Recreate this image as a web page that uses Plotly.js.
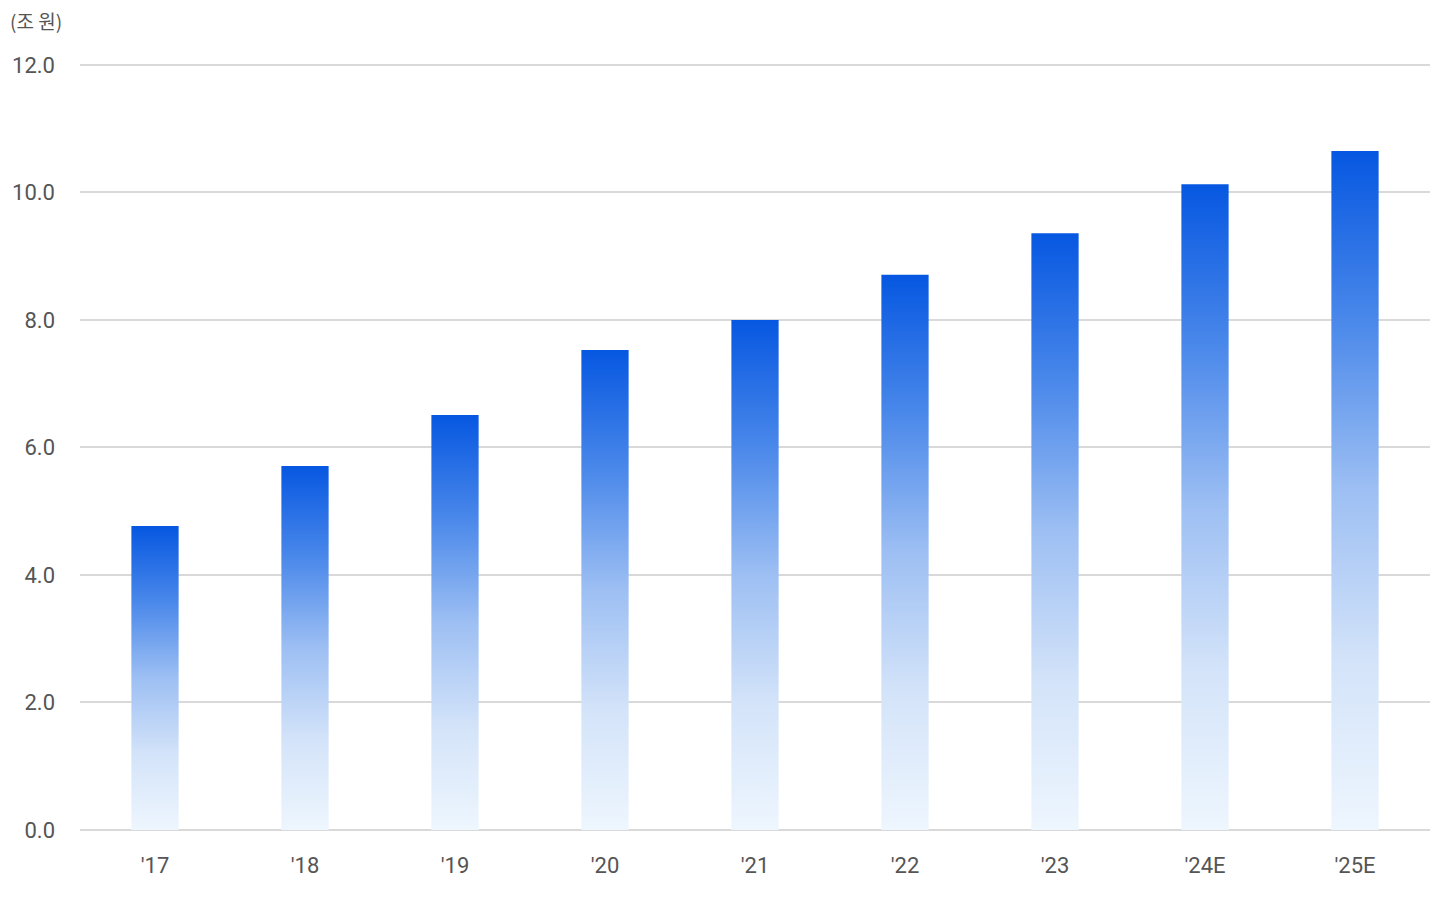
<!DOCTYPE html>
<html>
<head>
<meta charset="utf-8">
<script src="https://cdn.plot.ly/plotly-3.0.1.min.js"></script>
<style>html,body{margin:0;padding:0;background:#fff;}#chart{width:1452px;height:897px;}</style>
</head>
<body>
<div id="chart"></div>
<script>
const categories = ["'17", "'18", "'19", "'20", "'21", "'22", "'23", "'24E", "'25E"];
const values = [4.77, 5.71, 6.51, 7.53, 8.0, 8.71, 9.36, 10.13, 10.65];
const yTickVals = [0, 2, 4, 6, 8, 10, 12];
const yTickText = ["0.0", "2.0", "4.0", "6.0", "8.0", "10.0", "12.0"];
const unitLabel = "(조 원)";

const fontFamily = "Roboto, 'Noto Sans CJK KR', sans-serif";

const trace = {
  type: 'bar',
  x: categories,
  y: values,
  width: 0.315,
  marker: {color: '#4a86e8', line: {width: 0}},
  hoverinfo: 'x+y'
};

const layout = {
  width: 1452, height: 897,
  margin: {l: 80, r: 22, t: 63, b: 67},
  paper_bgcolor: '#fff', plot_bgcolor: '#fff',
  showlegend: false,
  font: {family: fontFamily, color: '#555555', size: 22},
  xaxis: {
    type: 'category',
    showgrid: false, zeroline: false,
    showline: false,
    ticks: '',
    tickfont: {size: 22, color: '#555555'},
    ticklabelstandoff: 20
  },
  yaxis: {
    range: [0, 12.03],
    tickvals: yTickVals,
    ticktext: yTickText,
    showgrid: true, gridcolor: '#d9d9d9', gridwidth: 2,
    zeroline: true, zerolinecolor: '#d9d9d9', zerolinewidth: 2,
    showline: false, ticks: '',
    tickfont: {size: 22, color: '#555555'},
    ticklabelstandoff: 24
  },
  annotations: [{
    text: unitLabel, xref: 'paper', yref: 'paper',
    x: 0, y: 1, xshift: -72, yshift: 43,
    xanchor: 'left', yanchor: 'middle', showarrow: false,
    font: {size: 19, color: '#555555', family: "'Noto Sans CJK KR', Roboto, sans-serif"}
  }]
};

Plotly.newPlot('chart', [trace], layout, {displayModeBar: false, staticPlot: true}).then(function(gd){
  const svgNS = 'http://www.w3.org/2000/svg';
  const svg = gd.querySelector('.main-svg');
  let defs = svg.querySelector('defs');
  if (!defs) { defs = document.createElementNS(svgNS, 'defs'); svg.insertBefore(defs, svg.firstChild); }
  const grad = document.createElementNS(svgNS, 'linearGradient');
  grad.setAttribute('id', 'barGrad');
  grad.setAttribute('x1', '0'); grad.setAttribute('y1', '0');
  grad.setAttribute('x2', '0'); grad.setAttribute('y2', '1');
  const stops = [[0, '#0657e1'], [0.25, '#4a88ea'], [0.5, '#9dbff3'], [0.75, '#d3e3f9'], [1, '#eef6fe']];
  stops.forEach(function(s){
    const st = document.createElementNS(svgNS, 'stop');
    st.setAttribute('offset', s[0]);
    st.setAttribute('stop-color', s[1]);
    grad.appendChild(st);
  });
  defs.appendChild(grad);
  gd.querySelectorAll('.bars .point path').forEach(function(p){
    p.style.fill = 'url(#barGrad)';
  });
});
</script>
</body>
</html>
